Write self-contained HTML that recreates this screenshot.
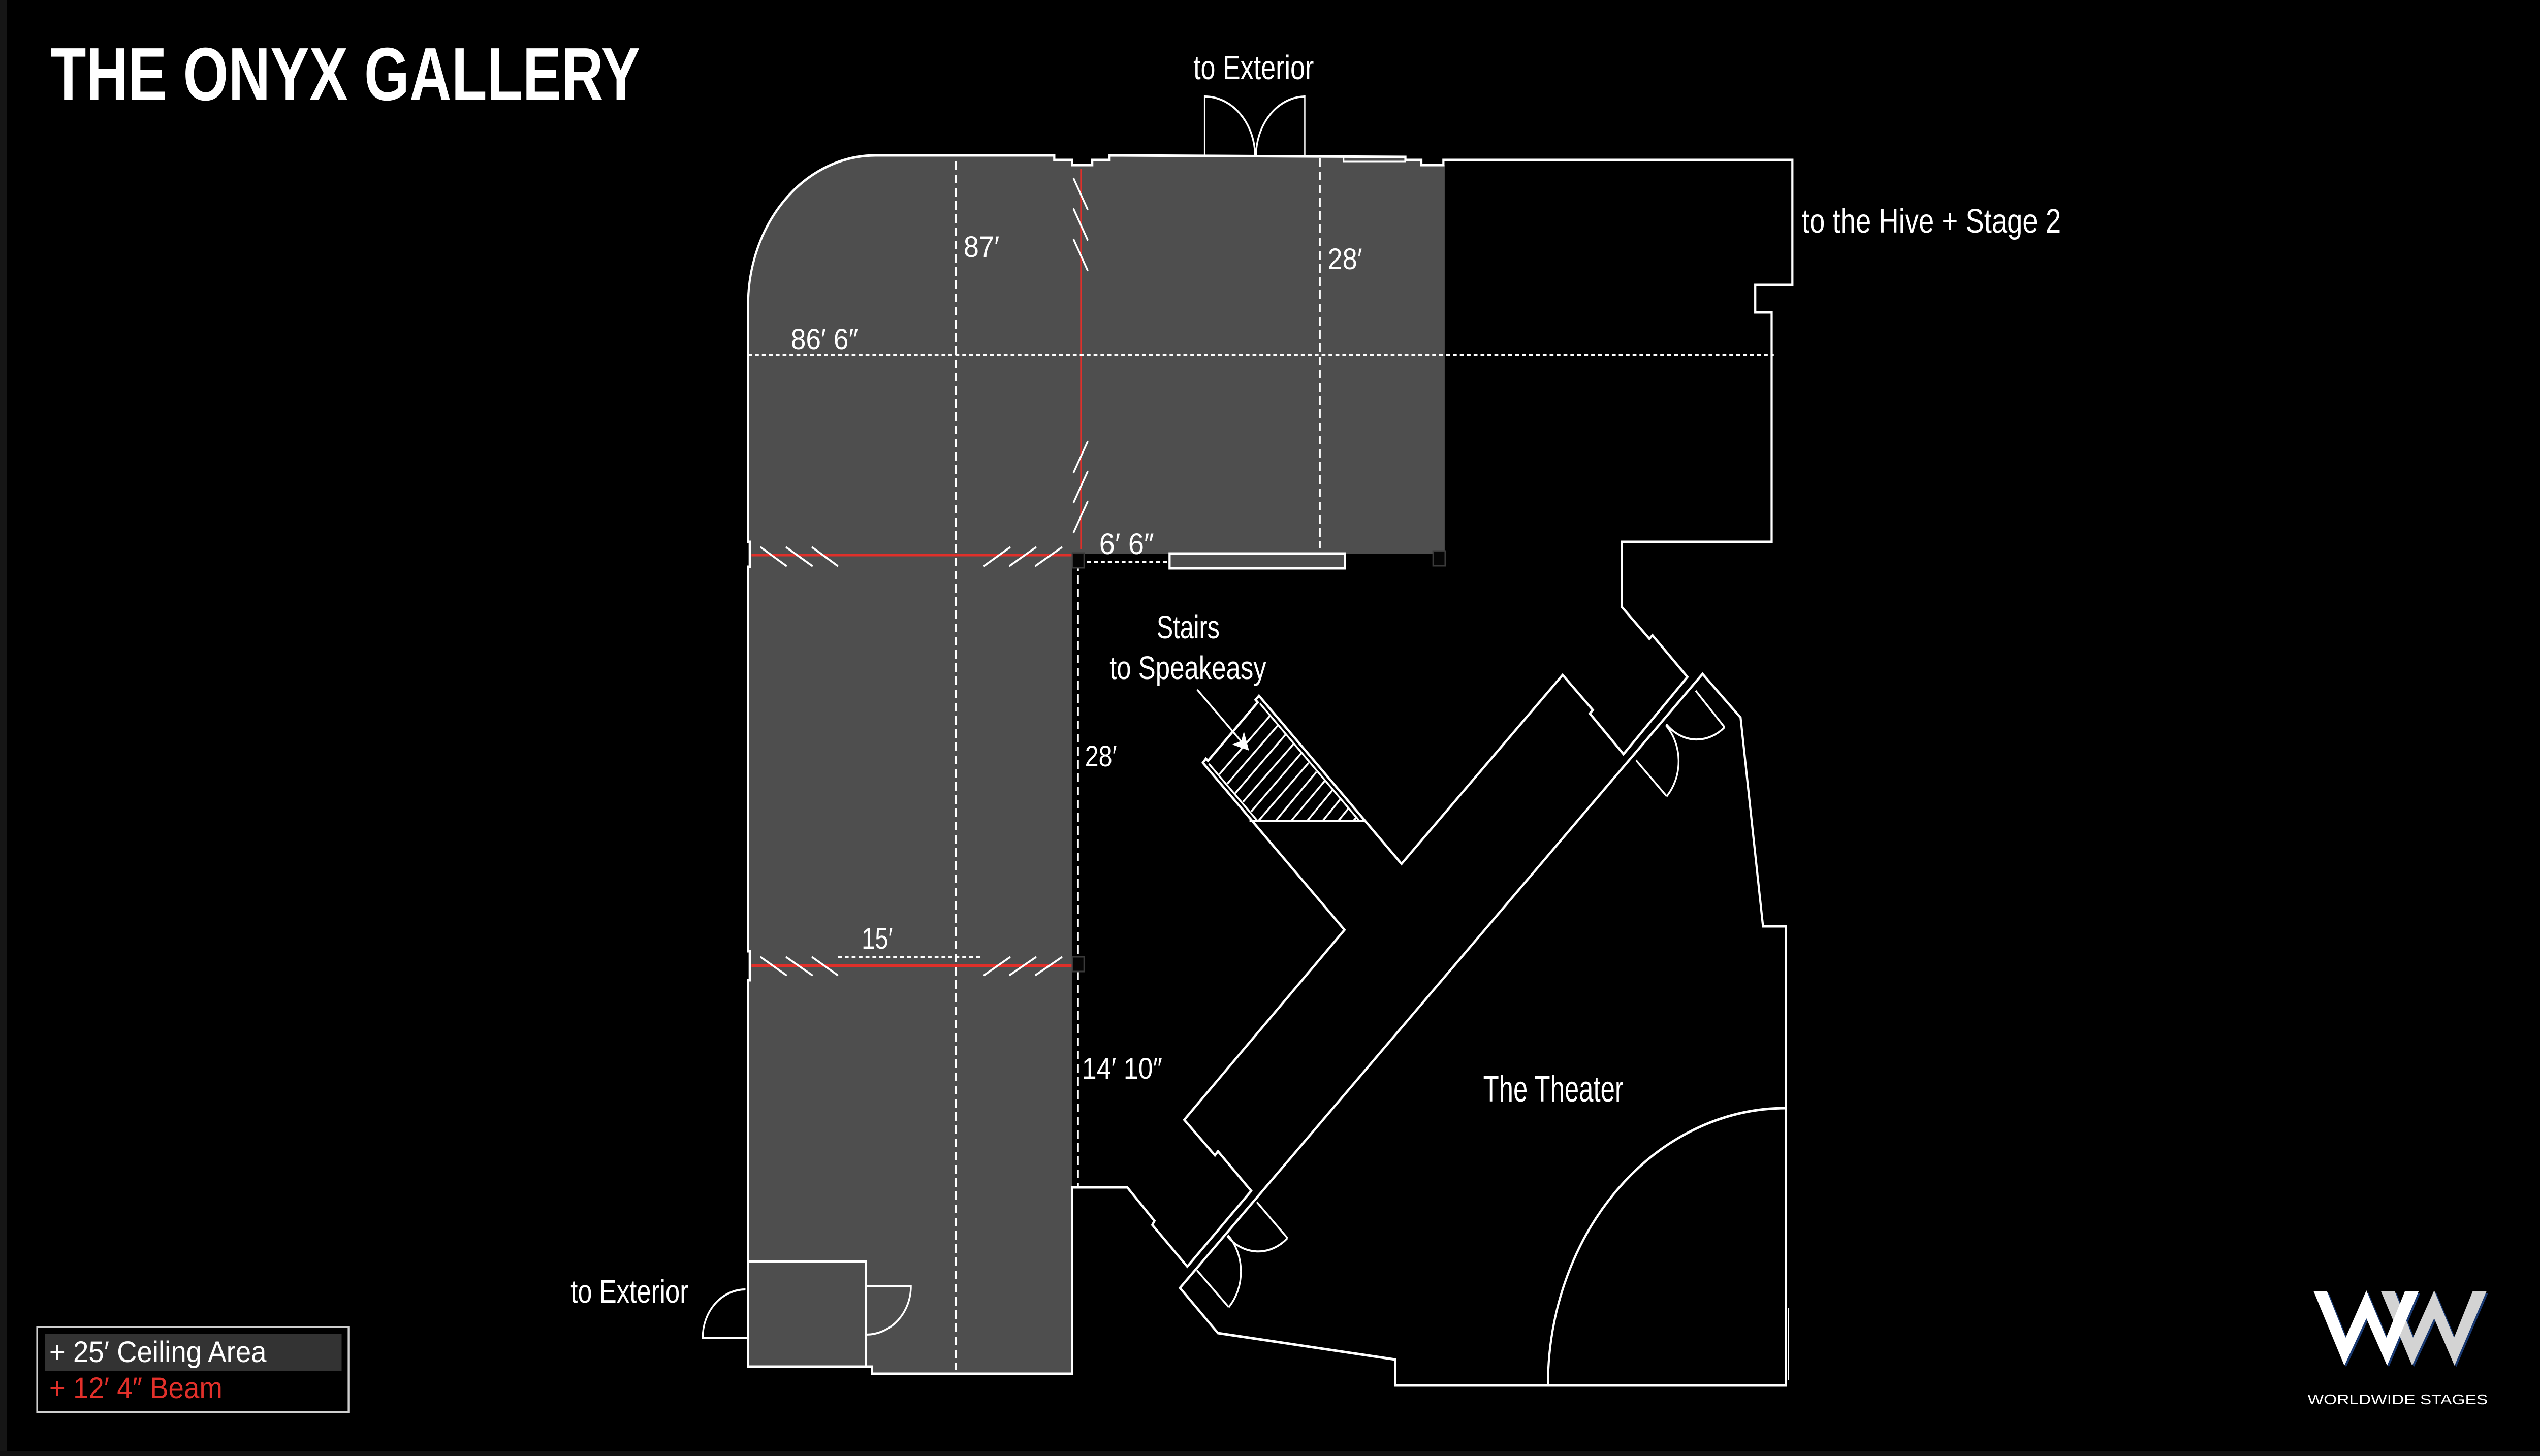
<!DOCTYPE html>
<html><head><meta charset="utf-8"><style>
html,body{margin:0;padding:0;background:#000;width:100%;height:100%;overflow:hidden;}
svg{display:block;position:absolute;left:0;top:0;width:100%;height:100%;}
text{font-family:"Liberation Sans",sans-serif;}
</style></head><body>
<svg xmlns="http://www.w3.org/2000/svg" width="100%" height="100%" viewBox="0 0 5881 2867" preserveAspectRatio="none">
<rect width="5881" height="2867" fill="#000"/>
<rect x="0" y="0" width="16" height="2867" fill="#161616"/>
<rect x="0" y="2857" width="5881" height="10" fill="#121212"/>

<!-- gray ceiling area -->
<path d="M1732,2691 L1732,601 A295,295 0 0 1 2027,306 L2441,306 L2441,315 L2482,315 L2482,325 L2529,325 L2529,315 L2569,315 L2569,306 L3254,309 L3254,315 L3291,315 L3291,325 L3345,325 L3345,1090 L2482,1090 L2482,2705 L2019,2705 L2019,2691 Z" fill="#4e4e4e"/>

<!-- red beams -->
<line x1="2503" y1="332" x2="2503" y2="1082" stroke="#e0302a" stroke-width="4"/>
<line x1="1740" y1="1093" x2="2481" y2="1093" stroke="#e0302a" stroke-width="5"/>
<line x1="1740" y1="1901" x2="2481" y2="1901" stroke="#e0302a" stroke-width="6"/>

<!-- dashed / dotted dimension lines -->
<g stroke="#fff" stroke-width="4" fill="none">
  <line x1="2213" y1="318" x2="2213" y2="2697" stroke-dasharray="17 9"/>
  <line x1="3056" y1="312" x2="3056" y2="1079" stroke-dasharray="17 9"/>
  <line x1="2496" y1="1107" x2="2496" y2="2338" stroke-dasharray="17 9"/>
  <line x1="1732" y1="699" x2="4107" y2="699" stroke-dasharray="9 7"/>
  <line x1="2517" y1="1106" x2="2705" y2="1106" stroke-dasharray="9 7"/>
  <line x1="1940" y1="1884" x2="2277" y2="1884" stroke-dasharray="9 7"/>
</g>

<!-- slashes -->
<g stroke="#fff" stroke-width="4" stroke-linecap="round">
  <line x1="2486" y1="352" x2="2518" y2="412"/>
  <line x1="2486" y1="412" x2="2518" y2="472"/>
  <line x1="2486" y1="472" x2="2518" y2="532"/>
  <line x1="2518" y1="870" x2="2486" y2="930"/>
  <line x1="2518" y1="929" x2="2486" y2="989"/>
  <line x1="2518" y1="988" x2="2486" y2="1048"/>

  <line x1="1762" y1="1078" x2="1820" y2="1114"/>
  <line x1="1821" y1="1078" x2="1880" y2="1114"/>
  <line x1="1881" y1="1078" x2="1939" y2="1114"/>
  <line x1="2279" y1="1114" x2="2338" y2="1078"/>
  <line x1="2338" y1="1114" x2="2398" y2="1078"/>
  <line x1="2398" y1="1114" x2="2458" y2="1078"/>

  <line x1="1762" y1="1885" x2="1820" y2="1920"/>
  <line x1="1821" y1="1885" x2="1880" y2="1920"/>
  <line x1="1881" y1="1885" x2="1939" y2="1920"/>
  <line x1="2279" y1="1920" x2="2338" y2="1885"/>
  <line x1="2338" y1="1920" x2="2398" y2="1885"/>
  <line x1="2398" y1="1920" x2="2458" y2="1885"/>
</g>

<!-- posts -->
<g fill="#050505" stroke="#3a3a3a" stroke-width="3">
  <rect x="2483" y="1089" width="27" height="29"/>
  <rect x="3318" y="1085" width="28" height="29"/>
  <rect x="2483" y="1884" width="27" height="29"/>
</g>

<!-- walls -->
<g stroke="#fff" stroke-width="5" fill="none" stroke-linejoin="miter">
  <path d="M2482,2338 L2610,2338 L2673,2404 L2668,2412 L2749,2494 L2897,2345 L2820,2267 L2813,2275 L2742,2205 L3113,1831 L2785,1502 L2792,1494 L2797,1498 L2912,1383 L2907,1378 L2915,1370 L3245,1701 L3618,1329 L3688,1398 L3681,1405 L3759,1485 L3907,1333 L3826,1251 L3819,1258 L3755,1195 L3755,1067 L4102,1067 L4102,615 L4064,615 L4064,561 L4150,561 L4150,315 L3342,315 L3342,325 L3291,325 L3291,315 L3254,315 L3254,309 L2569,306 L2569,315 L2529,315 L2529,325 L2482,325 L2482,315 L2441,315 L2441,306 L2027,306 A295,295 0 0 0 1732,601 L1732,1067 L1737,1067 L1737,1116 L1732,1116 L1732,1873 L1737,1873 L1737,1930 L1732,1930 L1732,2691 L2019,2691 L2019,2705 L2482,2705 Z"/>
  <!-- theater -->
  <path d="M3942,1327 L2732,2536 L2820,2625 L3230,2677 L3230,2728 L4135,2728 L4135,1824 L4082,1824 L4030,1413 Z"/>
  <path d="M3584,2728 A551,546 0 0 1 4135,2182"/>
  <line x1="4141" y1="2576" x2="4141" y2="2718" stroke-width="3"/>
  <!-- small room -->
  <rect x="1732" y="2484" width="273" height="207"/>
  <!-- long rect -->
  <rect x="2708" y="1090" width="406" height="29" fill="#4e4e4e"/>
</g>
<rect x="3111" y="309" width="143" height="9" fill="none" stroke="#fff" stroke-width="3"/>

<!-- stairs -->
<g stroke="#fff" stroke-width="4" fill="none">
  <line x1="2917" y1="1385" x2="3148" y2="1617"/>
  <line x1="2799" y1="1504" x2="2912" y2="1617"/>
  <line x1="2893" y1="1617" x2="3160" y2="1617"/>
  <line x1="2823" y1="1525" x2="2940" y2="1410"/>
  <line x1="2842" y1="1543" x2="2959" y2="1428"/>
  <line x1="2860" y1="1562" x2="2977" y2="1446"/>
  <line x1="2878" y1="1579" x2="2995" y2="1465"/>
  <line x1="2897" y1="1598" x2="3013" y2="1483"/>
  <line x1="2913" y1="1617" x2="3030" y2="1502"/>
  <line x1="2953" y1="1617" x2="3048" y2="1520"/>
  <line x1="2989" y1="1617" x2="3067" y2="1538"/>
  <line x1="3026" y1="1617" x2="3085" y2="1556"/>
  <line x1="3062" y1="1617" x2="3103" y2="1574"/>
  <line x1="3098" y1="1617" x2="3122" y2="1592"/>
  <line x1="3133" y1="1617" x2="3140" y2="1610"/>
  <line x1="2772" y1="1358" x2="2878" y2="1464"/>
</g>
<polygon points="2892,1478 2853,1466 2874,1459 2880,1440" fill="#fff"/>

<!-- doors -->
<g stroke="#fff" stroke-width="4" fill="none">
  <line x1="2789" y1="188" x2="2789" y2="310" stroke-width="3"/>
  <line x1="3021" y1="188" x2="3021" y2="310" stroke-width="3"/>
  <path d="M2789,190 A117,118 0 0 1 2906,308"/>
  <path d="M3021,190 A115,118 0 0 0 2908,308"/>
  <path d="M1726,2539 A99,95 0 0 0 1627,2634 L1729,2634"/>
  <path d="M2005,2533 L2109,2533 A104,95 0 0 1 2005,2628"/>
  <line x1="3926" y1="1360" x2="3993" y2="1432"/>
  <path d="M3993,1432 A98,98 0 0 1 3858,1426"/>
  <line x1="3788" y1="1497" x2="3859" y2="1568"/>
  <path d="M3859,1568 A100,100 0 0 0 3857,1428"/>
  <line x1="2910" y1="2367" x2="2981" y2="2438"/>
  <path d="M2981,2438 A101,101 0 0 1 2841,2434"/>
  <line x1="2771" y1="2501" x2="2845" y2="2574"/>
  <path d="M2845,2574 A101,101 0 0 0 2843,2432"/>
</g>

<!-- labels -->
<g fill="#fff">
  <text x="117" y="197" font-size="148" font-weight="bold" textLength="1365" lengthAdjust="spacingAndGlyphs">THE ONYX GALLERY</text>
  <text x="2231" y="506" font-size="58" textLength="83" lengthAdjust="spacingAndGlyphs">87′</text>
  <text x="3074" y="530" font-size="58" textLength="80" lengthAdjust="spacingAndGlyphs">28′</text>
  <text x="1831" y="688" font-size="58" textLength="156" lengthAdjust="spacingAndGlyphs">86′ 6″</text>
  <text x="2545" y="1091" font-size="58" textLength="127" lengthAdjust="spacingAndGlyphs">6′ 6″</text>
  <text x="2512" y="1509" font-size="58" textLength="74" lengthAdjust="spacingAndGlyphs">28′</text>
  <text x="1995" y="1868" font-size="58" textLength="72" lengthAdjust="spacingAndGlyphs">15′</text>
  <text x="2505" y="2124" font-size="58" textLength="186" lengthAdjust="spacingAndGlyphs">14′ 10″</text>
  <text x="2678" y="1257" font-size="64" textLength="146" lengthAdjust="spacingAndGlyphs">Stairs</text>
  <text x="2569" y="1337" font-size="64" textLength="363" lengthAdjust="spacingAndGlyphs">to Speakeasy</text>
  <text x="3434" y="2169" font-size="72" textLength="325" lengthAdjust="spacingAndGlyphs">The Theater</text>
  <text x="2763" y="156" font-size="67" textLength="279" lengthAdjust="spacingAndGlyphs">to Exterior</text>
  <text x="1321" y="2565" font-size="64" textLength="273" lengthAdjust="spacingAndGlyphs">to Exterior</text>
  <text x="4172" y="458" font-size="67" textLength="600" lengthAdjust="spacingAndGlyphs">to the Hive + Stage 2</text>
</g>

<!-- legend -->
<rect x="86" y="2613" width="721" height="167" fill="none" stroke="#cfcfcf" stroke-width="4"/>
<rect x="104" y="2627" width="687" height="72" fill="#333"/>
<text x="114" y="2682" font-size="58" fill="#fff" textLength="503" lengthAdjust="spacingAndGlyphs">+  25′ Ceiling Area</text>
<text x="114" y="2753" font-size="58" fill="#e2302a" textLength="401" lengthAdjust="spacingAndGlyphs">+  12′ 4″ Beam</text>

<!-- logo -->
<defs>
  <linearGradient id="lg" x1="0" x2="1" y1="0" y2="0">
    <stop offset="0" stop-color="#333"/>
    <stop offset="0.35" stop-color="#eee"/>
    <stop offset="0.5" stop-color="#777"/>
    <stop offset="0.7" stop-color="#eee"/>
    <stop offset="1" stop-color="#333"/>
  </linearGradient>
</defs>
<g transform="translate(4,3)" fill="#183870">
  <polygon points="5513,2543 5545,2543 5587,2634 5636,2541 5682,2634 5725,2543 5757,2543 5683,2689 5636,2596 5585,2689"/>
  <polygon points="5357,2543 5388,2543 5431,2634 5479,2541 5525,2634 5568,2543 5600,2543 5527,2689 5479,2596 5428,2689"/>
</g>
<polygon points="5513,2543 5545,2543 5587,2634 5636,2541 5682,2634 5725,2543 5757,2543 5683,2689 5636,2596 5585,2689" fill="#d3d3d3"/>
<polygon points="5357,2543 5388,2543 5431,2634 5479,2541 5525,2634 5568,2543 5600,2543 5527,2689 5479,2596 5428,2689" fill="#fff"/>
<line x1="5333" y1="2711" x2="5772" y2="2711" stroke="url(#lg)" stroke-width="3"/>
<text x="5343" y="2765" font-size="28" fill="#fff" textLength="417" lengthAdjust="spacingAndGlyphs">WORLDWIDE STAGES</text>
</svg>
</body></html>
